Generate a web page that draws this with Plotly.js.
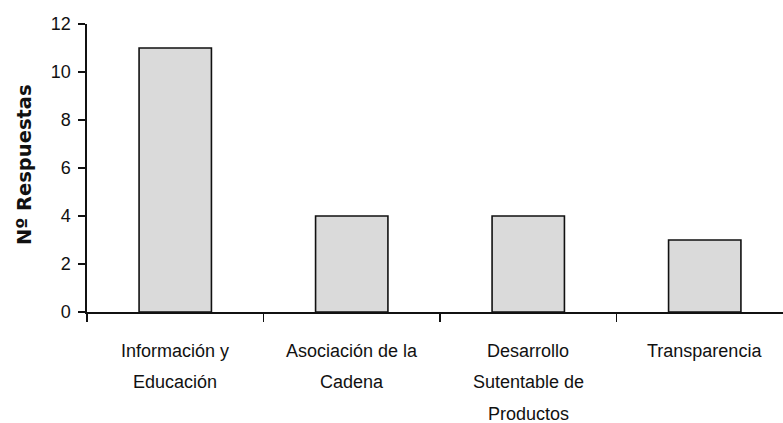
<!DOCTYPE html>
<html>
<head>
<meta charset="utf-8">
<script src="https://cdn.plot.ly/plotly-3.0.1.min.js"></script>
<style>
  html, body { margin: 0; padding: 0; background: #fff; }
  #chart { width: 783px; height: 423px; }
</style>
</head>
<body>
<div id="chart"></div>
<script>
// Survey answers per topic
const categories = ["Información y Educación", "Asociación de la Cadena", "Desarrollo Sutentable de Productos", "Transparencia"];
const respuestas = [11, 4, 4, 3];
// Category labels, split into the lines they are printed on
const labelLines = [
  ["Información y", "Educación"],
  ["Asociación de la", "Cadena"],
  ["Desarrollo", "Sutentable de", "Productos"],
  ["Transparencia"]
];
const yTitle = "Nº Respuestas";

const trace = {
  type: "bar",
  x: categories,
  y: respuestas,
  marker: {
    color: "#dedede",
    line: { color: "#111", width: 1.6 },
    pattern: { shape: ".", size: 2, solidity: 0.5, fgcolor: "#c4c4c4", bgcolor: "#ececec" }
  },
  hoverinfo: "x+y"
};

// multi-line category labels, one annotation per line
const lineGap = 31.5;
const annotations = [];
labelLines.forEach((lines, i) => {
  lines.forEach((txt, j) => {
    annotations.push({
      xref: "x", yref: "paper",
      x: categories[i], y: 0,
      yanchor: "middle", xanchor: "center",
      yshift: -38.5 - j * lineGap,
      text: txt, showarrow: false,
      font: { family: "Liberation Sans, Arial, sans-serif", size: 18, color: "#111" }
    });
  });
});
// rotated axis title
annotations.push({
  xref: "paper", yref: "paper",
  x: (24 - 87) / 696, y: 0.51,
  xanchor: "center", yanchor: "middle",
  text: "<b>" + yTitle + "</b>", textangle: -90, showarrow: false,
  font: { family: "DejaVu Sans, sans-serif", size: 19.5, color: "#111" }
});

const layout = {
  width: 783, height: 423,
  margin: { l: 87, r: 0, t: 24, b: 111.3 },
  paper_bgcolor: "#fff", plot_bgcolor: "#fff",
  showlegend: false,
  bargap: 0.59,
  xaxis: {
    type: "category",
    range: [-0.5, -0.5 + 696 / 176.5],
    showticklabels: false,
    showline: true, linecolor: "#111", linewidth: 1.6,
    ticks: "outside", tickson: "boundaries", ticklen: 8, tickwidth: 1.6, tickcolor: "#111",
    showgrid: false, zeroline: false, fixedrange: true
  },
  yaxis: {
    range: [0, 12], dtick: 2, tick0: 0,
    showline: true, linecolor: "#111", linewidth: 1.6,
    ticks: "outside", ticklen: 7, tickwidth: 1.6, tickcolor: "#111",
    ticklabelstandoff: 4,
    tickfont: { family: "Liberation Sans, Arial, sans-serif", size: 18, color: "#111" },
    showgrid: false, zeroline: false, fixedrange: true
  },
  annotations: annotations
};

Plotly.newPlot("chart", [trace], layout, { displayModeBar: false, staticPlot: true });
</script>
</body>
</html>
